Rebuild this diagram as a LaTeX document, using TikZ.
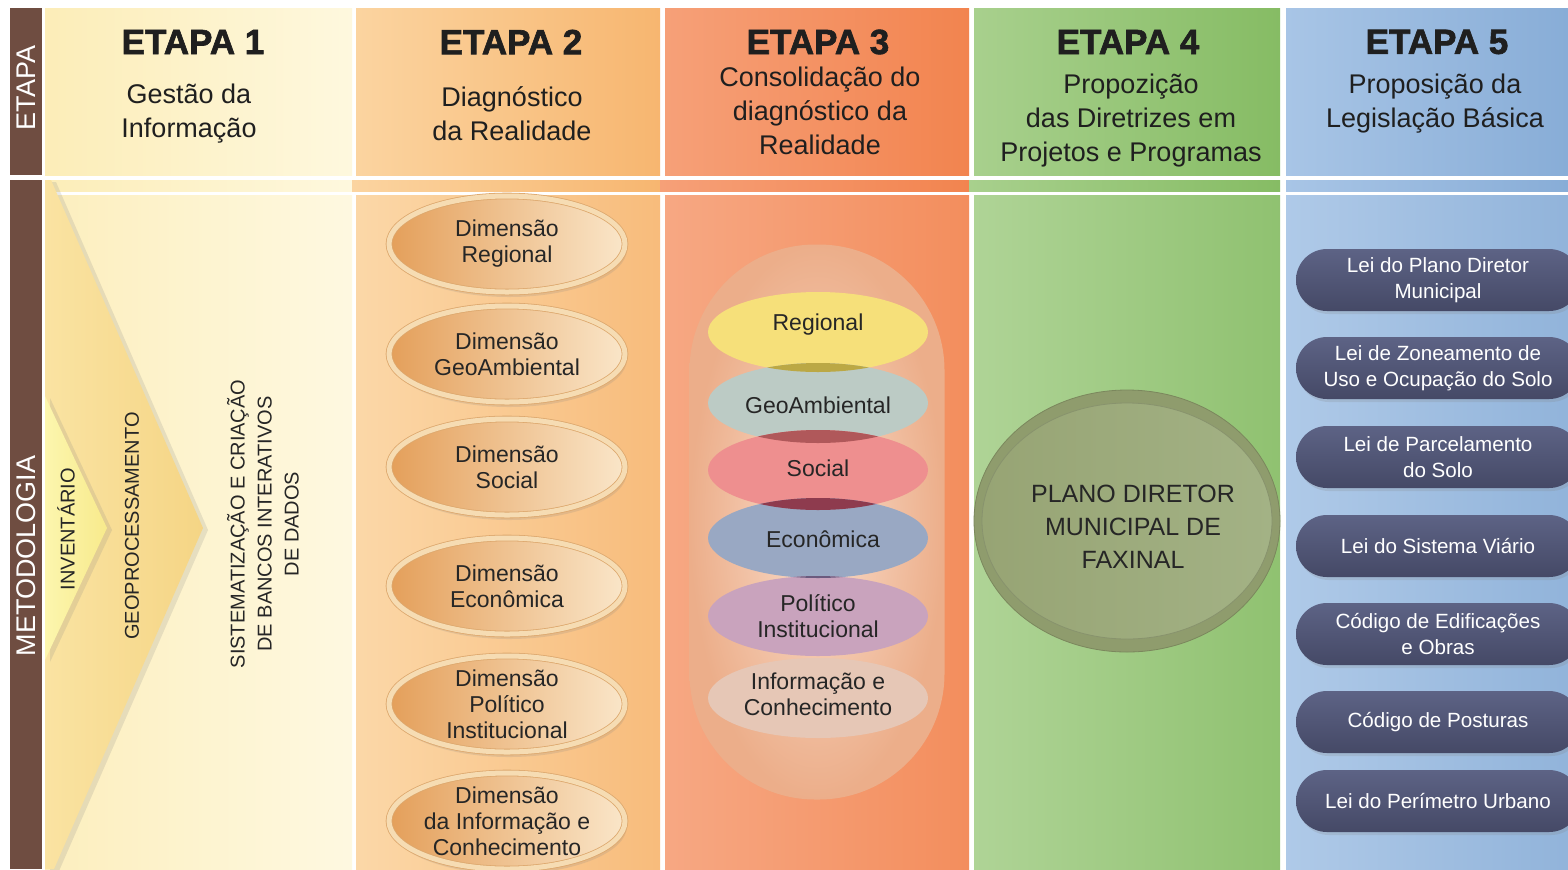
\documentclass[tikz,border=0pt]{standalone}
\usepackage{fontspec}
\setmainfont{Liberation Sans}
\newfontfamily\headfont{Liberation Sans Bold}[FakeBold=1.8]
\usetikzlibrary{shapes.geometric,shadows}

\definecolor{brownband}{HTML}{6F4D41}
\definecolor{creamA}{HTML}{FCEDB8}
\definecolor{creamB}{HTML}{FEF8DE}
\definecolor{orangeA}{HTML}{FBD4A0}
\definecolor{orangeB}{HTML}{F7B670}
\definecolor{salmonA}{HTML}{F6A078}
\definecolor{salmonB}{HTML}{F2844F}
\definecolor{greenA}{HTML}{A8D08D}
\definecolor{greenB}{HTML}{86BC64}
\definecolor{blueA}{HTML}{A8C5E6}
\definecolor{blueB}{HTML}{88ADD7}
\definecolor{chevdark}{HTML}{F5D585}
\definecolor{chevlight}{HTML}{FAE3A2}
\definecolor{invlight}{HTML}{FCF6AE}
\definecolor{invdark}{HTML}{F8EA8C}
\definecolor{dimdark}{HTML}{E49F5A}
\definecolor{dimlight}{HTML}{FAE6C9}
\definecolor{dimring}{HTML}{F6DCB3}
\definecolor{dimedge}{HTML}{DDA86E}
\definecolor{coreinner}{HTML}{F9DDCB}
\definecolor{coreouter}{HTML}{ECAE8A}
\definecolor{layerReg}{HTML}{F6E07A}
\definecolor{layerGeo}{HTML}{BCCBC5}
\definecolor{layerSoc}{HTML}{EE8F8F}
\definecolor{layerEco}{HTML}{99A8C3}
\definecolor{layerPol}{HTML}{C9A3BD}
\definecolor{layerInf}{HTML}{E6C7B6}
\definecolor{mixRG}{HTML}{BBA845}
\definecolor{mixGS}{HTML}{B0585A}
\definecolor{mixSE}{HTML}{8E3B4E}
\definecolor{mixEP}{HTML}{6B5A7E}
\definecolor{mixPI}{HTML}{B57A80}
\definecolor{planoouter}{HTML}{8F9C6D}
\definecolor{planoedge}{HTML}{7B875D}
\definecolor{planoA}{HTML}{97A474}
\definecolor{planoB}{HTML}{A3B285}
\definecolor{lawtop}{HTML}{5D6385}
\definecolor{lawbottom}{HTML}{454966}

\tikzset{
  etapa/.style={font=\headfont\fontsize{17.5}{20}\selectfont, text=black!88, inner sep=0pt},
  etapasub/.style={font=\fontsize{13.5}{17}\selectfont, text=black!88, align=center, inner sep=0pt},
  bandtext/.style={font=\fontsize{13.5}{16}\selectfont, text=white, rotate=90, inner sep=0pt},
  stagetext/.style={font=\fontsize{10}{13.5}\selectfont, text=black!85, rotate=90, align=center, inner sep=0pt},
  chevron/.style={drop shadow={opacity=0.18, shadow xshift=2.5pt, shadow yshift=-1pt}},
  dimshape/.style={ellipse, minimum width=118pt, minimum height=48pt, inner sep=0pt,
    left color=dimdark, right color=dimlight, draw=dimedge, double=dimring, double distance=2.5pt,
    drop shadow={opacity=0.18, shadow xshift=1pt, shadow yshift=-2.5pt}},
  dimtext/.style={font=\fontsize{11.5}{13}\selectfont, text=black!85, align=center, inner sep=0pt},
  corepill/.style={rectangle, rounded corners=63pt, minimum width=127.5pt, minimum height=277.5pt,
    inner color=coreinner, outer color=coreouter},
  layer/.style={ellipse, minimum width=110pt, minimum height=40pt, inner sep=0pt, fill=#1},
  layertext/.style={font=\fontsize{11.5}{13}\selectfont, text=black!85, align=center, inner sep=0pt},
  planoring/.style={ellipse, minimum width=153pt, minimum height=131pt, fill=planoouter, draw=planoedge, line width=0.4pt},
  planocore/.style={ellipse, minimum width=145pt, minimum height=118pt, left color=planoA, right color=planoB, draw=planoedge!90, line width=0.4pt},
  planotext/.style={font=\fontsize{12.5}{16.5}\selectfont, text=black!85, align=center, inner sep=0pt},
  lawpill/.style={rectangle, rounded corners=15.5pt, minimum width=142pt, minimum height=31pt, inner sep=0pt,
    top color=lawtop, bottom color=lawbottom, text=white, align=center,
    font=\fontsize{10.3}{12.8}\selectfont,
    drop shadow={opacity=0.2, shadow xshift=1pt, shadow yshift=-1.5pt}},
}

\begin{document}
\begin{tikzpicture}[x=0.5pt,y=-0.5pt]
  \useasboundingbox (0,0) rectangle (1568,869);
  \clip (0,0) rectangle (1568,869);
  \fill[white] (0,0) rectangle (1568,869);

  \fill[brownband] (10,8) rectangle (42,175);
  \fill[brownband] (10,180) rectangle (42,869);
  \foreach \xa/\sa/\xb/\ca/\cb in {45/45/352/creamA/creamB, 356/352/660/orangeA/orangeB,
      665/660/969/salmonA/salmonB, 974/969/1280/greenA/greenB, 1286/1286/1568/blueA/blueB}{
    \shade[left color=\ca, right color=\cb] (\xa,8) rectangle (\xb,175);
    \shade[left color=\ca, right color=\cb] (\sa,180) rectangle (\xb,191);
    \shade[left color=\ca!92!white, right color=\cb!92!white] (\xa,195) rectangle (\xb,869);
  }

  \node[bandtext] (etapalbl) at (26,88) {ETAPA};
  \node[bandtext] (metodlbl) at (26,556) {METODOLOGIA};

  \node[etapa] (e1) at (193,42) {ETAPA 1};
  \node[etapa] (e2) at (511,42) {ETAPA 2};
  \node[etapa] (e3) at (818,42) {ETAPA 3};
  \node[etapa] (e4) at (1128,42) {ETAPA 4};
  \node[etapa] (e5) at (1437,42) {ETAPA 5};
  \node[etapasub] (t1) at (189,114) {Gestão da\\Informação};
  \node[etapasub] (t2) at (512,114) {Diagnóstico\\da Realidade};
  \node[etapasub] (t3) at (820,111) {Consolidação do\\diagnóstico da\\Realidade};
  \node[etapasub] (t4) at (1131,121) {Propozição\\das Diretrizes em\\Projetos e Programas};
  \node[etapasub] (t5) at (1435,104) {Proposição da\\Legislação Básica};

  \shade[chevron, left color=chevlight, right color=chevdark]
    (45,180) -- (51,180) -- (203,528) -- (54,869) -- (45,869) -- cycle;
  \shade[chevron, left color=invlight, right color=invdark]
    (45,396) -- (107,528) -- (45,660) -- cycle;
  \node[stagetext] (inv) at (66,529) {INVENTÁRIO};
  \node[stagetext] (geo) at (132,526) {GEOPROCESSAMENTO};
  \node[stagetext] (sis) at (263,524) {SISTEMATIZAÇÃO E CRIAÇÃO\\DE BANCOS INTERATIVOS\\DE DADOS};

  \foreach \y/\name/\txt in {244/d1/{Dimensão\\Regional}, 354/d2/{Dimensão\\GeoAmbiental},
      467/d3/{Dimensão\\Social}, 586/d4/{Dimensão\\Econômica},
      704/d5/{Dimensão\\Político\\Institucional}, 821/d6/{Dimensão\\da Informação e\\Conhecimento}}{
    \node[dimshape] (\name) at (507,\y) {};
    \node[dimtext] (\name t) at (507,\y) {\txt};
  }

  \node[corepill] (core) at (817,522) {};
  \node[layer=layerReg] (lr) at (818,332) {};
  \node[layer=layerGeo] (lg) at (818,403) {};
  \node[layer=layerSoc] (ls) at (818,470) {};
  \node[layer=layerEco] (le) at (818,538) {};
  \node[layer=layerPol] (lp) at (818,616) {};
  \node[layer=layerInf] (li) at (818,698) {};
  \foreach \a/\b/\c in {lr/lg/mixRG, lg/ls/mixGS, ls/le/mixSE, le/lp/mixEP, lp/li/mixPI}{
    \begin{scope}
      \clip (\a.center) ellipse [x radius=55pt, y radius=20pt];
      \fill[\c] (\b.center) ellipse [x radius=55pt, y radius=20pt];
    \end{scope}
  }
  \node[layertext] (lrt) at (818,325) {Regional};
  \node[layertext] (lgt) at (818,405) {GeoAmbiental};
  \node[layertext] (lst) at (818,468) {Social};
  \node[layertext] (let) at (823,539) {Econômica};
  \node[layertext] (lpt) at (818,616) {Político\\Institucional};
  \node[layertext] (lit) at (818,694) {Informação e\\Conhecimento};

  \node[planoring] (planoout) at (1127,521) {};
  \node[planocore] (plano) at (1127,521) {};
  \node[planotext] (planot) at (1133,527) {PLANO DIRETOR\\MUNICIPAL DE\\FAXINAL};

  \foreach \y/\name/\txt in {280/law1/{Lei do Plano Diretor\\Municipal},
      368/law2/{Lei de Zoneamento de\\Uso e Ocupação do Solo},
      457/law3/{Lei de Parcelamento\\do Solo}, 546/law4/{Lei do Sistema Viário},
      634/law5/{Código de Edificações\\e Obras}, 722/law6/{Código de Posturas},
      801/law7/{Lei do Perímetro Urbano}}{
    \node[lawpill] (\name) at (1438,\y) {\txt};
  }
\end{tikzpicture}
\end{document}
